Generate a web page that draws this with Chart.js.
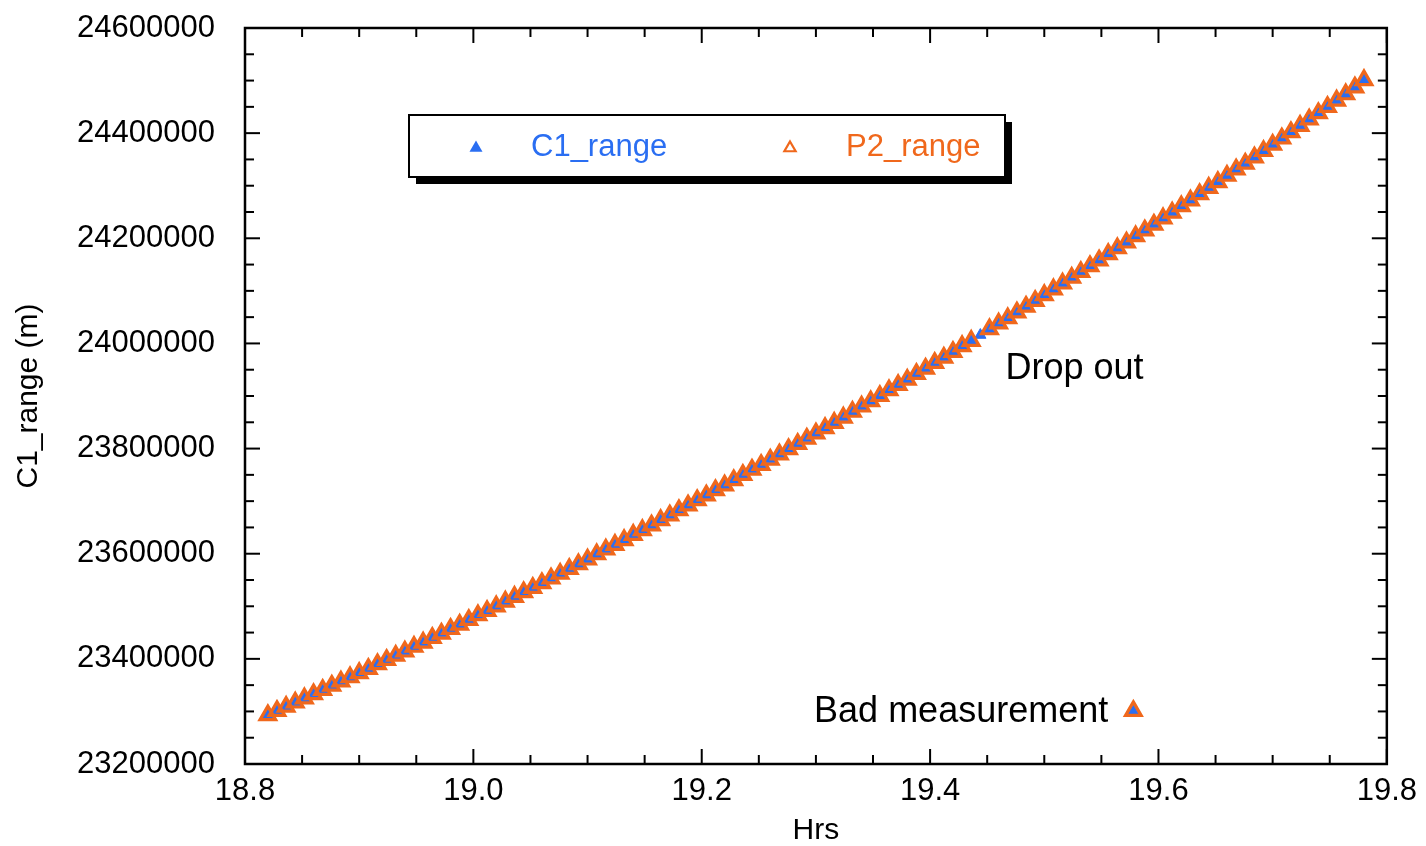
<!DOCTYPE html>
<html>
<head>
<meta charset="utf-8">
<script src="https://cdn.jsdelivr.net/npm/chart.js@4.4.1/dist/chart.umd.min.js"></script>
<style>
  body { margin: 0; background: #fff; }
  #wrap { width: 1426px; height: 846px; }
</style>
</head>
<body>
<div id="wrap"><canvas id="rangeChart" width="1426" height="846"></canvas></div>
<script>
// ===== DATA =====
const hrs = [
  18.82, 18.828, 18.836, 18.844, 18.852, 18.86, 18.868, 18.876, 18.884, 18.892,
  18.9, 18.908, 18.916, 18.924, 18.932, 18.94, 18.948, 18.956, 18.964, 18.972,
  18.98, 18.988, 18.996, 19.004, 19.012, 19.02, 19.028, 19.036, 19.044, 19.052,
  19.06, 19.068, 19.076, 19.084, 19.092, 19.1, 19.108, 19.116, 19.124, 19.132,
  19.14, 19.148, 19.156, 19.164, 19.172, 19.18, 19.188, 19.196, 19.204, 19.212,
  19.22, 19.228, 19.236, 19.244, 19.252, 19.26, 19.268, 19.276, 19.284, 19.292,
  19.3, 19.308, 19.316, 19.324, 19.332, 19.34, 19.348, 19.356, 19.364, 19.372,
  19.38, 19.388, 19.396, 19.404, 19.412, 19.42, 19.428, 19.436, 19.444, 19.452,
  19.46, 19.468, 19.476, 19.484, 19.492, 19.5, 19.508, 19.516, 19.524, 19.532,
  19.54, 19.548, 19.556, 19.564, 19.572, 19.578, 19.58, 19.588, 19.596, 19.604, 19.612,
  19.62, 19.628, 19.636, 19.644, 19.652, 19.66, 19.668, 19.676, 19.684, 19.692,
  19.7, 19.708, 19.716, 19.724, 19.732, 19.74, 19.748, 19.756, 19.764, 19.772,
  19.78
];

const c1Range = [
  23293000, 23301000, 23309000, 23317000, 23325000, 23333000, 23341000, 23349000, 23357000, 23365000,
  23373000, 23381000, 23390000, 23398000, 23406000, 23414000, 23423000, 23431000, 23440000, 23448000,
  23457000, 23465000, 23474000, 23483000, 23491000, 23500000, 23509000, 23518000, 23527000, 23535000,
  23544000, 23553000, 23562000, 23571000, 23580000, 23589000, 23599000, 23608000, 23617000, 23626000,
  23636000, 23645000, 23654000, 23664000, 23673000, 23683000, 23692000, 23702000, 23711000, 23721000,
  23730000, 23740000, 23750000, 23760000, 23769000, 23779000, 23789000, 23799000, 23809000, 23819000,
  23829000, 23839000, 23849000, 23859000, 23870000, 23880000, 23890000, 23900000, 23911000, 23921000,
  23931000, 23942000, 23952000, 23963000, 23973000, 23984000, 23995000, 24005000, 24016000, 24027000,
  24038000, 24048000, 24059000, 24070000, 24081000, 24092000, 24103000, 24114000, 24125000, 24136000,
  24147000, 24158000, 24170000, 24181000, 24192000, 23301000, 24204000, 24215000, 24226000, 24238000, 24249000,
  24261000, 24272000, 24284000, 24296000, 24307000, 24319000, 24331000, 24342000, 24354000, 24366000,
  24378000, 24390000, 24402000, 24414000, 24426000, 24438000, 24450000, 24462000, 24474000, 24487000,
  24501000
];

// P2 has no value at 19.444 (drop out)
const p2Range = [
  23293000, 23301000, 23309000, 23317000, 23325000, 23333000, 23341000, 23349000, 23357000, 23365000,
  23373000, 23381000, 23390000, 23398000, 23406000, 23414000, 23423000, 23431000, 23440000, 23448000,
  23457000, 23465000, 23474000, 23483000, 23491000, 23500000, 23509000, 23518000, 23527000, 23535000,
  23544000, 23553000, 23562000, 23571000, 23580000, 23589000, 23599000, 23608000, 23617000, 23626000,
  23636000, 23645000, 23654000, 23664000, 23673000, 23683000, 23692000, 23702000, 23711000, 23721000,
  23730000, 23740000, 23750000, 23760000, 23769000, 23779000, 23789000, 23799000, 23809000, 23819000,
  23829000, 23839000, 23849000, 23859000, 23870000, 23880000, 23890000, 23900000, 23911000, 23921000,
  23931000, 23942000, 23952000, 23963000, 23973000, 23984000, 23995000, 24005000, null, 24027000,
  24038000, 24048000, 24059000, 24070000, 24081000, 24092000, 24103000, 24114000, 24125000, 24136000,
  24147000, 24158000, 24170000, 24181000, 24192000, 23301000, 24204000, 24215000, 24226000, 24238000, 24249000,
  24261000, 24272000, 24284000, 24296000, 24307000, 24319000, 24331000, 24342000, 24354000, 24366000,
  24378000, 24390000, 24402000, 24414000, 24426000, 24438000, 24450000, 24462000, 24474000, 24487000,
  24501000
];

const seriesNames = ["C1_range", "P2_range"];
const xTicks = [18.8, 19.0, 19.2, 19.4, 19.6, 19.8];
const xTickLabels = ["18.8", "19.0", "19.2", "19.4", "19.6", "19.8"];
const yTicks = [23200000, 23400000, 23600000, 23800000, 24000000, 24200000, 24400000, 24600000];
const yTickLabels = ["23200000", "23400000", "23600000", "23800000", "24000000", "24200000", "24400000", "24600000"];
const xTitle = "Hrs";
const yTitle = "C1_range (m)";
const noteDrop = "Drop out";
const noteBad = "Bad measurement";

// ===== STYLE =====
const BLUE = "#2a6ef2";
const ORANGE = "#f0681c";
const FONT = "'Liberation Sans', Arial, sans-serif";

function toPoints(ys) {
  return hrs.map((h, i) => ({ x: h, y: ys[i] }));
}

function triangle(ctx, cx, cy, r) {
  ctx.beginPath();
  for (let k = 0; k < 3; k++) {
    const a = k * 2 * Math.PI / 3;
    const px = cx + Math.sin(a) * r;
    const py = cy - Math.cos(a) * r;
    if (k === 0) ctx.moveTo(px, py); else ctx.lineTo(px, py);
  }
  ctx.closePath();
}

// frame, inward ticks on all sides, legend box, notes
const framePlugin = {
  id: "framePlugin",
  afterDatasetsDraw(chart) {
    const { ctx, chartArea: a, scales } = chart;
    const x = scales.x, y = scales.y;
    ctx.save();
    ctx.strokeStyle = "#000";
    ctx.lineWidth = 2;

    function seg(x1, y1, x2, y2) {
      ctx.beginPath(); ctx.moveTo(x1, y1); ctx.lineTo(x2, y2); ctx.stroke();
    }

    for (let i = 0; i < xTicks.length; i++) {
      const px = x.getPixelForValue(xTicks[i]);
      seg(px, a.bottom, px, a.bottom - 15);
      seg(px, a.top, px, a.top + 15);
      if (i < xTicks.length - 1) {
        for (let k = 1; k < 4; k++) {
          const mx = x.getPixelForValue(xTicks[i] + (xTicks[i + 1] - xTicks[i]) * k / 4);
          seg(mx, a.bottom, mx, a.bottom - 9);
          seg(mx, a.top, mx, a.top + 9);
        }
      }
    }
    for (let i = 0; i < yTicks.length; i++) {
      const py = y.getPixelForValue(yTicks[i]);
      seg(a.left, py, a.left + 15, py);
      seg(a.right, py, a.right - 15, py);
      if (i < yTicks.length - 1) {
        for (let k = 1; k < 4; k++) {
          const my = y.getPixelForValue(yTicks[i] + (yTicks[i + 1] - yTicks[i]) * k / 4);
          seg(a.left, my, a.left + 9, my);
          seg(a.right, my, a.right - 9, my);
        }
      }
    }

    ctx.lineWidth = 2.5;
    ctx.strokeRect(a.left, a.top, a.right - a.left, a.bottom - a.top);

    // legend box with drop shadow
    const lx = 409, ly = 115, lw = 596, lh = 62;
    ctx.fillStyle = "#000";
    ctx.fillRect(lx + 7, ly + 7, lw, lh);
    ctx.fillStyle = "#fff";
    ctx.fillRect(lx, ly, lw, lh);
    ctx.lineWidth = 2;
    ctx.strokeRect(lx, ly, lw, lh);

    ctx.font = "31px " + FONT;
    ctx.textBaseline = "middle";
    ctx.textAlign = "left";
    triangle(ctx, 476, 148, 7.5);
    ctx.fillStyle = BLUE;
    ctx.fill();
    ctx.fillText(seriesNames[0], 531, 147);

    triangle(ctx, 790, 148, 6.5);
    ctx.strokeStyle = ORANGE;
    ctx.lineWidth = 2.2;
    ctx.stroke();
    ctx.fillStyle = ORANGE;
    ctx.fillText(seriesNames[1], 846, 147);

    // notes
    ctx.fillStyle = "#000";
    ctx.font = "36px " + FONT;
    ctx.textAlign = "left";
    ctx.fillText(noteDrop, x.getPixelForValue(19.466), y.getPixelForValue(23951000));
    ctx.textAlign = "right";
    ctx.fillText(noteBad, x.getPixelForValue(19.556), y.getPixelForValue(23299000));
    ctx.restore();
  }
};

new Chart(document.getElementById("rangeChart").getContext("2d"), {
  type: "scatter",
  data: {
    datasets: [
      {
        label: seriesNames[0],
        data: toPoints(c1Range),
        pointStyle: "triangle",
        pointRadius: 6.5,
        pointBorderWidth: 1,
        backgroundColor: BLUE,
        borderColor: BLUE,
        order: 2
      },
      {
        label: seriesNames[1],
        data: toPoints(p2Range),
        pointStyle: "triangle",
        pointRadius: 9,
        pointBorderWidth: 3.2,
        backgroundColor: "rgba(0,0,0,0)",
        borderColor: ORANGE,
        order: 1
      }
    ]
  },
  options: {
    responsive: false,
    animation: false,
    layout: { padding: { top: 28, right: 38, left: 0, bottom: 0 } },
    plugins: {
      legend: { display: false },
      tooltip: { enabled: false }
    },
    scales: {
      x: {
        type: "linear",
        min: 18.8,
        max: 19.8,
        afterFit(scale) { scale.height = 82; },
        afterBuildTicks(scale) { scale.ticks = xTicks.map(v => ({ value: v })); },
        grid: { display: false, drawTicks: false },
        border: { display: false },
        ticks: {
          padding: 9,
          color: "#000",
          font: { family: FONT, size: 31 },
          maxRotation: 0,
          callback: (v, i) => xTickLabels[i]
        },
        title: {
          display: true,
          text: xTitle,
          color: "#000",
          font: { family: FONT, size: 30 },
          padding: { top: 0, bottom: -3 }
        }
      },
      y: {
        type: "linear",
        min: 23200000,
        max: 24600000,
        afterFit(scale) {
          scale.width = 245;
          scale.paddingTop = 18;
          scale.paddingBottom = 0;
        },
        afterBuildTicks(scale) { scale.ticks = yTicks.map(v => ({ value: v })); },
        grid: { display: false, drawTicks: false },
        border: { display: false },
        ticks: {
          padding: 30,
          color: "#000",
          font: { family: FONT, size: 31 },
          callback: (v, i) => yTickLabels[i]
        },
        title: {
          display: true,
          text: yTitle,
          color: "#000",
          font: { family: FONT, size: 30 },
          padding: { top: 11, bottom: 0 }
        }
      }
    }
  },
  plugins: [framePlugin]
});
</script>
</body>
</html>
